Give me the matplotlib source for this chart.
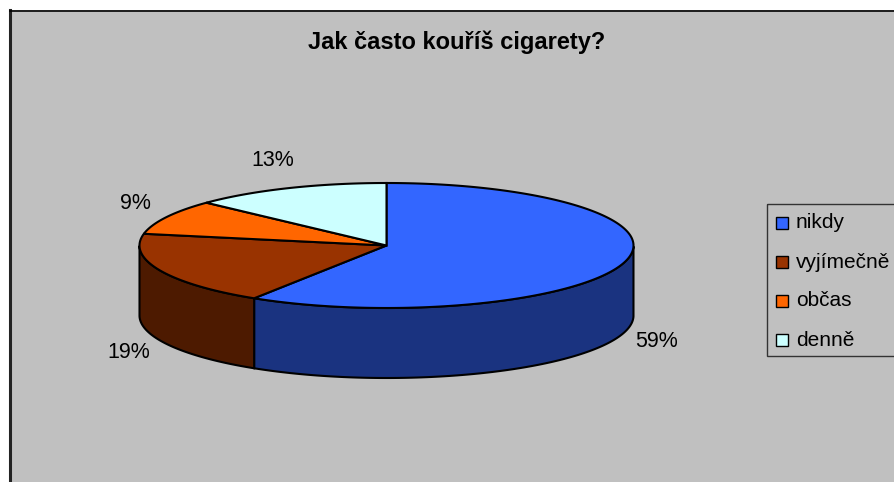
import numpy as np
import matplotlib
matplotlib.use("Agg")
import matplotlib.pyplot as plt
from matplotlib.patches import Polygon, Rectangle

plt.rcParams['font.family'] = ['Liberation Sans', 'DejaVu Sans']

# data
title = "Jak často kouříš cigarety?"
categories = ["nikdy", "vyjímečně", "občas", "denně"]
shares = [59, 19, 9, 13]
top_colors = ["#3366FF", "#993300", "#FF6600", "#CCFFFF"]
side_colors = ["#1A3380", "#4D1A00", "#803300", "#668080"]

W, H = 895, 482
fig = plt.figure(figsize=(W / 100, H / 100), dpi=100)
fig.patch.set_facecolor("white")
ax = fig.add_axes([0, 0, 1, 1])
ax.set_xlim(0, W)
ax.set_ylim(H, 0)
ax.axis("off")

# chart area
ax.add_patch(Rectangle((10, 10), W, H, facecolor="#C0C0C0", edgecolor="none", zorder=0))
ax.plot([10.5, 10.5], [10, H], color="#222222", lw=2.2, zorder=1)
ax.plot([10, W], [10.5, 10.5], color="black", lw=1.2, zorder=1)

ax.text(457, 42, title, ha="center", va="center", fontsize=17, fontweight="bold")

# 3d pie geometry (pixels)
cx, cy, rx, ry, depth = 386.5, 245.5, 247, 62.5, 70

def pt(a, dz=0):
    return cx + rx * np.cos(a), cy - ry * np.sin(a) + dz

fr = np.array(shares) / sum(shares)
ends = np.pi / 2 - 2 * np.pi * np.cumsum(fr)
starts = np.concatenate([[np.pi / 2], ends[:-1]])

# side walls (front half only)
for s, e, col in zip(starts, ends, side_colors):
    a = np.linspace(e, s, 200)
    a = a[np.sin(a) <= 1e-9]
    if len(a) < 2:
        continue
    xs, ys = pt(a)
    xb, yb = pt(a[::-1], depth)
    poly = np.column_stack([np.concatenate([xs, xb]), np.concatenate([ys, yb])])
    ax.add_patch(Polygon(poly, closed=True, facecolor=col, edgecolor="black", lw=1.5, zorder=2))

# top faces
for s, e, col in zip(starts, ends, top_colors):
    a = np.linspace(s, e, 200)
    xs, ys = pt(a)
    poly = np.column_stack([np.concatenate([[cx], xs]), np.concatenate([[cy], ys])])
    ax.add_patch(Polygon(poly, closed=True, facecolor=col, edgecolor="black", lw=1.5, zorder=3))

# percentage labels
m = 30
for s, e, v in zip(starts, ends, shares):
    mid = (s + e) / 2
    lx = cx + (rx + m) * np.cos(mid) + 4 * np.sign(np.cos(mid))
    ly = cy - (ry + m) * np.sin(mid) + (depth if np.sin(mid) < 0 else 0)
    ax.text(lx, ly, f"{v}%", ha="center", va="center", fontsize=15.5)

# legend
ax.add_patch(Rectangle((767, 204), 160, 152, facecolor="none", edgecolor="#333333", lw=1.0, zorder=4))
for i, (lab, col) in enumerate(zip(categories, top_colors)):
    yy = 223 + i * 39
    ax.add_patch(Rectangle((776, yy - 6), 12, 12, facecolor=col, edgecolor="black", lw=1.0, zorder=5))
    ax.text(796, yy, lab, ha="left", va="center", fontsize=15, zorder=5)

fig.savefig("out.png", dpi=100)
